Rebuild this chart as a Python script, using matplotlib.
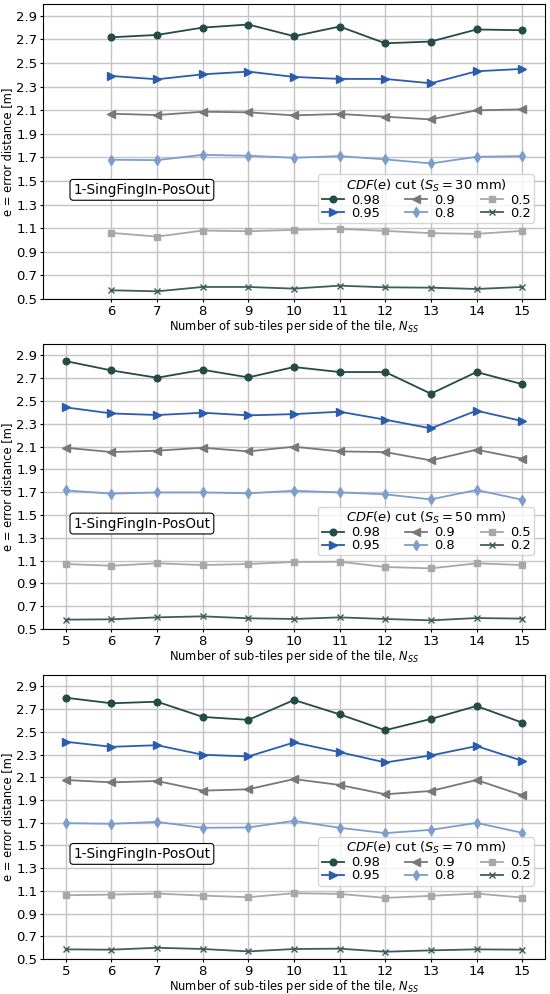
import numpy as np
import matplotlib
matplotlib.use("Agg")
import matplotlib.pyplot as plt

cuts = ["0.98", "0.95", "0.9", "0.8", "0.5", "0.2"]
colors = ["#254b46", "#2b5cae", "#787878", "#7d9dcc", "#a8a8a8", "#3c5e5b"]
markers = ["o", ">", "<", "d", "s", "x"]
msizes = [4.8, 5.5, 5.5, 5, 4.8, 4.8]

sizes_mm = [30, 50, 70]

nss_30 = [6, 7, 8, 9, 10, 11, 12, 13, 14, 15]
err_30 = {
    "0.98": [2.718, 2.738, 2.800, 2.826, 2.727, 2.809, 2.667, 2.682, 2.784, 2.778],
    "0.95": [2.390, 2.362, 2.404, 2.427, 2.382, 2.365, 2.365, 2.328, 2.430, 2.450],
    "0.9": [2.070, 2.059, 2.087, 2.082, 2.056, 2.068, 2.045, 2.022, 2.099, 2.107],
    "0.8": [1.680, 1.677, 1.722, 1.714, 1.697, 1.711, 1.683, 1.649, 1.705, 1.711],
    "0.5": [1.060, 1.029, 1.080, 1.074, 1.086, 1.094, 1.077, 1.058, 1.052, 1.077],
    "0.2": [0.574, 0.565, 0.602, 0.602, 0.588, 0.613, 0.599, 0.596, 0.585, 0.602],
}

nss_50 = [5, 6, 7, 8, 9, 10, 11, 12, 13, 14, 15]
err_50 = {
    "0.98": [2.850, 2.768, 2.704, 2.774, 2.707, 2.798, 2.754, 2.754, 2.564, 2.754, 2.648],
    "0.95": [2.444, 2.391, 2.377, 2.397, 2.374, 2.385, 2.406, 2.336, 2.260, 2.415, 2.324],
    "0.9": [2.090, 2.052, 2.064, 2.090, 2.058, 2.099, 2.058, 2.052, 1.979, 2.073, 1.994],
    "0.8": [1.716, 1.687, 1.698, 1.698, 1.690, 1.713, 1.698, 1.681, 1.637, 1.719, 1.634],
    "0.5": [1.070, 1.055, 1.076, 1.061, 1.070, 1.088, 1.090, 1.044, 1.032, 1.076, 1.061],
    "0.2": [0.582, 0.585, 0.602, 0.611, 0.594, 0.588, 0.602, 0.588, 0.576, 0.596, 0.591],
}

nss_70 = [5, 6, 7, 8, 9, 10, 11, 12, 13, 14, 15]
err_70 = {
    "0.98": [2.800, 2.751, 2.765, 2.631, 2.605, 2.780, 2.654, 2.514, 2.613, 2.727, 2.581],
    "0.95": [2.412, 2.368, 2.382, 2.298, 2.283, 2.406, 2.321, 2.230, 2.292, 2.374, 2.245],
    "0.9": [2.076, 2.055, 2.067, 1.982, 1.994, 2.084, 2.032, 1.950, 1.979, 2.076, 1.941],
    "0.8": [1.696, 1.690, 1.707, 1.655, 1.658, 1.716, 1.655, 1.608, 1.637, 1.698, 1.611],
    "0.5": [1.061, 1.067, 1.076, 1.058, 1.044, 1.079, 1.073, 1.038, 1.056, 1.076, 1.041],
    "0.2": [0.585, 0.582, 0.599, 0.588, 0.567, 0.588, 0.591, 0.564, 0.576, 0.585, 0.582],
}

panels = [(nss_30, err_30), (nss_50, err_50), (nss_70, err_70)]

W, H = 550, 994
# axes boxes in pixels: left, top, right, bottom
boxes = [(43, 4, 545, 299), (43, 344, 545, 629), (43, 675, 545, 959)]

plt.rcParams["font.size"] = 10
fig = plt.figure(figsize=(W / 100, H / 100), dpi=100)

for (nss, err), size, (l, t, r, b) in zip(panels, sizes_mm, boxes):
    ax = fig.add_axes([l / W, 1 - b / H, (r - l) / W, (b - t) / H])
    for cut, c, m, ms in zip(cuts, colors, markers, msizes):
        ax.plot(nss, err[cut], color=c, marker=m, markersize=ms, lw=1.3,
                label=cut, zorder=3)
    ax.set_xlim(4.5, 15.5)
    ax.set_ylim(0.5, 3.0)
    ax.set_xticks(nss)
    ax.set_yticks(np.arange(0.5, 2.95, 0.2))
    ax.tick_params(labelsize=9.5, length=2, pad=2)
    ax.grid(True, color="#c4c4c4", lw=1.0)
    ax.set_axisbelow(True)
    ax.set_ylabel("e = error distance [m]", fontsize=8.3, labelpad=2)
    ax.set_xlabel(r"Number of sub-tiles per side of the tile, $N_{SS}$",
                  fontsize=8.3, labelpad=0)
    ax.text(0.197, 0.37, "1-SingFingIn-PosOut", transform=ax.transAxes,
            ha="center", va="center", fontsize=9.8,
            bbox=dict(boxstyle="round,pad=0.25", fc="white", ec="black", lw=0.8))
    ax.legend(title=r"$CDF(e)$ cut ($S_S = %d$ mm)" % size, ncol=3,
              loc="lower right", bbox_to_anchor=(0.978, 0.258), borderaxespad=0,
              handlelength=1.7, handletextpad=0.55, columnspacing=1.95,
              labelspacing=0.0, borderpad=0.25, fontsize=9.4, title_fontsize=9.4)

fig.savefig("out.png", dpi=100)
plt.close(fig)
